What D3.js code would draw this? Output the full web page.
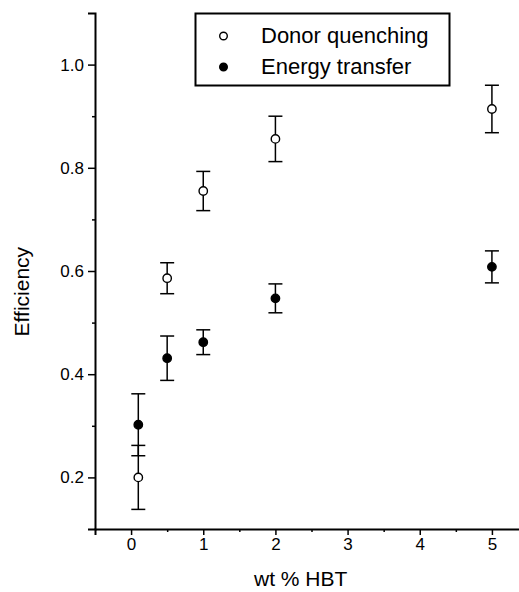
<!DOCTYPE html>
<html>
<head>
<meta charset="utf-8">
<script src="https://cdn.jsdelivr.net/npm/d3@7"></script>
<style>
  html, body { margin: 0; padding: 0; background: #fff; }
  svg { display: block; }
  text { font-family: "Liberation Sans", Arial, sans-serif; fill: #000; }
</style>
</head>
<body>
<svg id="chart" width="519" height="592"></svg>
<script>
// ---- data ----
const xValues = [0.1, 0.5, 1, 2, 5];
const donorQuenching = [0.200, 0.586, 0.755, 0.856, 0.914];
const donorError = [0.062, 0.030, 0.038, 0.044, 0.046];
const energyTransfer = [0.302, 0.431, 0.462, 0.547, 0.608];
const energyError = [0.060, 0.043, 0.024, 0.028, 0.031];
const xTickValues = [0, 1, 2, 3, 4, 5];
const xMinorTicks = [0.5, 1.5, 2.5, 3.5, 4.5];
const yTickValues = [0.2, 0.4, 0.6, 0.8, 1.0];
const yMinorTicks = [0.3, 0.5, 0.7, 0.9];
const seriesNames = ["Donor quenching", "Energy transfer"];
const xTitle = "wt % HBT";
const yTitle = "Efficiency";

const svg = d3.select("#chart");
const x = d3.scaleLinear().domain([-0.5, 5.5]).range([95, 528]);
const y = d3.scaleLinear().domain([0.1, 1.1]).range([529, 13]);

// axes
svg.append("g").attr("transform", `translate(0,${y(0.1)})`)
  .call(d3.axisBottom(x).tickValues(xTickValues).tickFormat(d3.format("d")).tickSizeOuter(0).tickSize(6).tickPadding(3));
svg.append("g").attr("transform", `translate(0,${y(0.1)})`)
  .call(d3.axisBottom(x).tickValues(xMinorTicks).tickFormat("").tickSizeOuter(0).tickSize(3))
  .select(".domain").remove();
svg.append("g").attr("transform", `translate(${x(-0.5)},0)`)
  .call(d3.axisLeft(y).tickValues(yTickValues).tickFormat(d3.format(".1f")).tickSizeOuter(0).tickSize(7).tickPadding(4));
svg.append("g").attr("transform", `translate(${x(-0.5)},0)`)
  .call(d3.axisLeft(y).tickValues(yMinorTicks).tickFormat("").tickSizeOuter(0).tickSize(3))
  .select(".domain").remove();

svg.selectAll(".domain").attr("stroke", "#000").attr("stroke-width", 2);
svg.selectAll(".tick line").attr("stroke", "#000").attr("stroke-width", 1.5);
svg.selectAll(".tick text").attr("font-size", 17).attr("font-family", "'Liberation Sans', Arial, sans-serif").attr("fill", "#000");

// axis titles
svg.append("text").attr("x", x(2.35)).attr("y", 586).attr("text-anchor", "middle")
  .attr("font-size", 21).text(xTitle);
svg.append("text").attr("transform", `translate(29,${y(0.56)}) rotate(-90)`)
  .attr("text-anchor", "middle").attr("font-size", 21).text(yTitle);

// series
const series = [
  { name: seriesNames[0], values: donorQuenching, errors: donorError, fill: "#fff" },
  { name: seriesNames[1], values: energyTransfer, errors: energyError, fill: "#000" }
];
const capHalf = 7;
series.forEach(s => {
  const pts = xValues.map((xv, i) => ({ x: xv, y: s.values[i], e: s.errors[i] }));
  const g = svg.append("g");
  const eb = g.selectAll(".eb").data(pts).enter().append("g");
  eb.append("line").attr("x1", d => x(d.x)).attr("x2", d => x(d.x))
    .attr("y1", d => y(d.y + d.e)).attr("y2", d => y(d.y - d.e))
    .attr("stroke", "#000").attr("stroke-width", 1.5);
  eb.append("line").attr("x1", d => x(d.x) - capHalf).attr("x2", d => x(d.x) + capHalf)
    .attr("y1", d => y(d.y + d.e)).attr("y2", d => y(d.y + d.e))
    .attr("stroke", "#000").attr("stroke-width", 1.5);
  eb.append("line").attr("x1", d => x(d.x) - capHalf).attr("x2", d => x(d.x) + capHalf)
    .attr("y1", d => y(d.y - d.e)).attr("y2", d => y(d.y - d.e))
    .attr("stroke", "#000").attr("stroke-width", 1.5);
  g.selectAll("circle").data(pts).enter().append("circle")
    .attr("cx", d => x(d.x)).attr("cy", d => y(d.y)).attr("r", 4.2)
    .attr("fill", s.fill).attr("stroke", "#000").attr("stroke-width", 1.4);
});

// legend
const legend = svg.append("g");
legend.append("rect").attr("x", 195.5).attr("y", 13.5).attr("width", 254).attr("height", 72)
  .attr("fill", "#fff").attr("stroke", "#000").attr("stroke-width", 2);
series.forEach((s, i) => {
  const cy = 36 + i * 31;
  legend.append("circle").attr("cx", 223.5).attr("cy", cy).attr("r", 3.8)
    .attr("fill", s.fill).attr("stroke", "#000").attr("stroke-width", 1.4);
  legend.append("text").attr("x", 261).attr("y", cy + 6.5).attr("font-size", 22).text(s.name);
});
</script>
</body>
</html>
